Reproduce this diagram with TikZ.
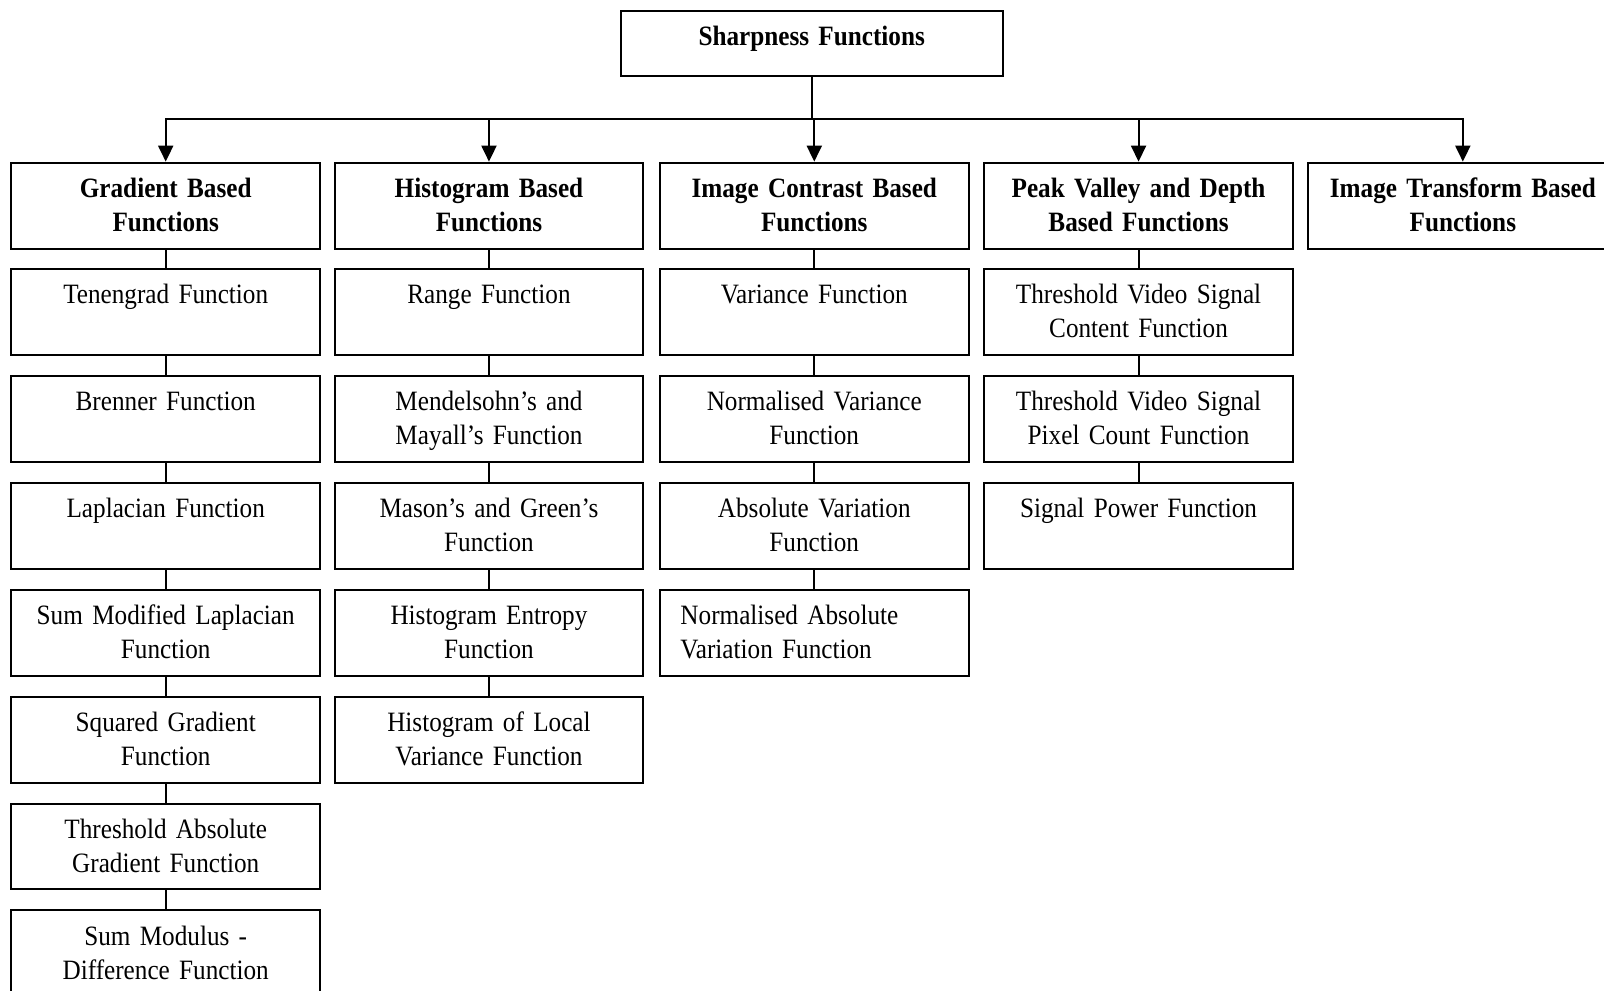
\documentclass[tikz,border=0pt]{standalone}
\usepackage{fontspec}
\setmainfont{Liberation Serif}[FakeStretch=0.9]
\usetikzlibrary{arrows.meta}
\newcommand\txtfont{\fontsize{28}{33.8}\selectfont\spaceskip=5.6pt plus 1pt minus 1pt\relax}
\tikzset{
  box/.style={draw, line width=2pt, anchor=north, minimum width=308.9pt, minimum height=85.9pt, inner sep=0pt},
  topbox/.style={box, minimum width=381.6pt, minimum height=64.4pt},
  txt/.style={anchor=base, align=center, text width=300pt, inner sep=0pt, font=\txtfont},
  hdr/.style={txt, font=\txtfont\bfseries},
  link/.style={line width=2pt},
  arr/.style={line width=2pt, -{Triangle[length=16pt,width=15pt]}}
}
\newcommand\fbx[5]{%
  \node[box] (#1) at (#2,#3) {};
  \node[#5] (#1t) at (#2,#3+35) {#4};}
\begin{document}
\begin{tikzpicture}[x=1.023pt,y=-1.023pt]
\useasboundingbox (0,0) rectangle (1568,968);
\clip (0,0) rectangle (1568,968);
% top
\node[topbox] (top) at (793.5,10) {};
\node[hdr] (topt) at (793.5,44) {Sharpness Functions};
% headers
\fbx{h1}{162}{158}{Gradient Based\\Functions}{hdr}
\fbx{h2}{478}{158}{Histogram Based\\Functions}{hdr}
\fbx{h3}{796}{158}{Image Contrast Based\\Functions}{hdr}
\fbx{h4}{1113}{158}{Peak Valley and Depth\\Based Functions}{hdr}
\fbx{h5}{1430}{158}{Image Transform Based\\Functions}{hdr}
% column 1
\fbx{a1}{162}{262}{Tenengrad Function}{txt}
\fbx{a2}{162}{366.5}{Brenner Function}{txt}
\fbx{a3}{162}{471}{Laplacian Function}{txt}
\fbx{a4}{162}{575.5}{Sum Modified Laplacian\\Function}{txt}
\fbx{a5}{162}{680}{Squared Gradient\\Function}{txt}
\fbx{a6}{162}{784.5}{Threshold Absolute\\Gradient Function}{txt}
\fbx{a7}{162}{889}{Sum Modulus -\\Difference Function}{txt}
% column 2
\fbx{b1}{478}{262}{Range Function}{txt}
\fbx{b2}{478}{366.5}{Mendelsohn’s and\\Mayall’s Function}{txt}
\fbx{b3}{478}{471}{Mason’s and Green’s\\Function}{txt}
\fbx{b4}{478}{575.5}{Histogram Entropy\\Function}{txt}
\fbx{b5}{478}{680}{Histogram of Local\\Variance Function}{txt}
% column 3
\fbx{c1}{796}{262}{Variance Function}{txt}
\fbx{c2}{796}{366.5}{Normalised Variance\\Function}{txt}
\fbx{c3}{796}{471}{Absolute Variation\\Function}{txt}
\node[box] (c4) at (796,575.5) {};
\node[txt, align=left, anchor=base west] (c4t) at (665,610.5) {Normalised Absolute\\Variation Function};
% column 4
\fbx{d1}{1113}{262}{Threshold Video Signal\\Content Function}{txt}
\fbx{d2}{1113}{366.5}{Threshold Video Signal\\Pixel Count Function}{txt}
\fbx{d3}{1113}{471}{Signal Power Function}{txt}
% connectors
\coordinate (bus) at (793.5,116);
\draw[link] (top.south) -- (bus);
\foreach \h in {h1,h2,h3,h4,h5} \draw[arr] (bus) -| (\h.north);
\foreach \p/\q in {h1/a1,a1/a2,a2/a3,a3/a4,a4/a5,a5/a6,a6/a7,
                   h2/b1,b1/b2,b2/b3,b3/b4,b4/b5,
                   h3/c1,c1/c2,c2/c3,c3/c4,
                   h4/d1,d1/d2,d2/d3}
  \draw[link] (\p.south) -- (\q.north);
\end{tikzpicture}
\end{document}
